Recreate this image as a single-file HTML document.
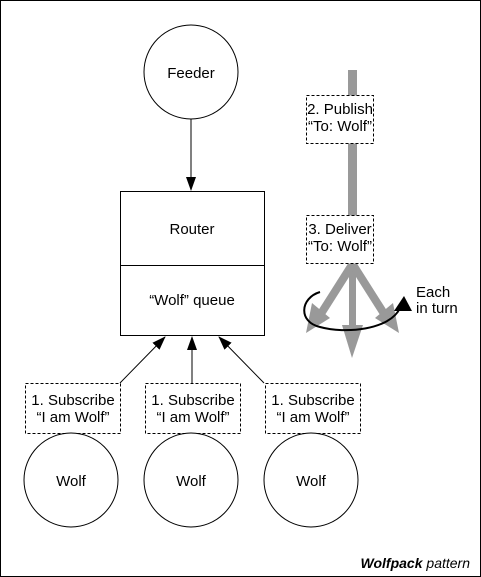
<!DOCTYPE html>
<html><head><style>
body{margin:0;background:#fff}
svg{display:block}
text{font-family:"Liberation Sans",sans-serif;font-size:15px;fill:#000}
</style></head><body>
<svg width="481" height="577" viewBox="0 0 481 577">
<defs>
<marker id="ah" markerWidth="14" markerHeight="14" refX="13" refY="5" orient="auto" markerUnits="userSpaceOnUse">
<path d="M0,0 L14,5 L0,10 z" fill="#000"/></marker>
</defs>
<rect x="0.5" y="0.5" width="480" height="576" fill="#fff" stroke="#000"/>
<circle cx="191" cy="72" r="47" fill="#fff" stroke="#000"/>
<text x="191" y="78" text-anchor="middle">Feeder</text>
<line x1="191" y1="119" x2="191" y2="190" stroke="#000" marker-end="url(#ah)"/>
<rect x="120.5" y="191.5" width="144" height="144" fill="#fff" stroke="#000"/>
<line x1="120" y1="265.5" x2="264" y2="265.5" stroke="#000"/>
<text x="192" y="234" text-anchor="middle">Router</text>
<text x="192" y="305" text-anchor="middle">“Wolf” queue</text>
<line x1="120" y1="383" x2="165" y2="337" stroke="#000" marker-end="url(#ah)"/>
<line x1="192" y1="383" x2="192" y2="337" stroke="#000" marker-end="url(#ah)"/>
<line x1="264" y1="383" x2="219" y2="337" stroke="#000" marker-end="url(#ah)"/>
<g stroke="#000" stroke-dasharray="3,2" fill="#fff">
<rect x="25.5" y="383.5" width="95" height="50"/>
<rect x="145.5" y="383.5" width="95" height="50"/>
<rect x="265.5" y="383.5" width="95" height="50"/>
</g>
<text x="73" y="405" text-anchor="middle">1. Subscribe</text>
<text x="73" y="422" text-anchor="middle">“I am Wolf”</text>
<text x="193" y="405" text-anchor="middle">1. Subscribe</text>
<text x="193" y="422" text-anchor="middle">“I am Wolf”</text>
<text x="313" y="405" text-anchor="middle">1. Subscribe</text>
<text x="313" y="422" text-anchor="middle">“I am Wolf”</text>
<g fill="#fff" stroke="#000">
<circle cx="71" cy="480" r="47"/><circle cx="191" cy="480" r="47"/><circle cx="311" cy="480" r="47"/>
</g>
<text x="71" y="486" text-anchor="middle">Wolf</text>
<text x="191" y="486" text-anchor="middle">Wolf</text>
<text x="311" y="486" text-anchor="middle">Wolf</text>
<rect x="348" y="70" width="9" height="200" fill="#999"/>
<g fill="#999">
<rect x="349" y="262" width="7" height="66"/>
<path d="M342,325 L363,325 L352,358 z"/>
<path d="M349,262 L356,266 L323,318 L316,314 z"/>
<path d="M312,303 L330,318 L306,333 z"/>
<path d="M356,262 L349,266 L382,318 L389,314 z"/>
<path d="M393,303 L375,318 L399,333 z"/>
</g>
<g stroke="#000" stroke-dasharray="3,2" fill="#fff">
<rect x="306.5" y="95.5" width="67" height="48"/>
<rect x="306.5" y="215.5" width="67" height="48"/>
</g>
<text x="340" y="114" text-anchor="middle">2. Publish</text>
<text x="340" y="131" text-anchor="middle">“To: Wolf”</text>
<text x="340" y="234" text-anchor="middle">3. Deliver</text>
<text x="340" y="251" text-anchor="middle">“To: Wolf”</text>
<path d="M320,292 C300,298 298,322 320,327 C345,334 390,330 400,308" fill="none" stroke="#000" stroke-width="2"/>
<path d="M404,296 L412,311 L394,311 z" fill="#000"/>
<text x="416" y="297">Each</text>
<text x="416" y="313">in turn</text>
<text x="470" y="568" text-anchor="end" style="font-style:italic;font-size:14px"><tspan font-weight="bold">Wolfpack</tspan> pattern</text>
</svg>
</body></html>
